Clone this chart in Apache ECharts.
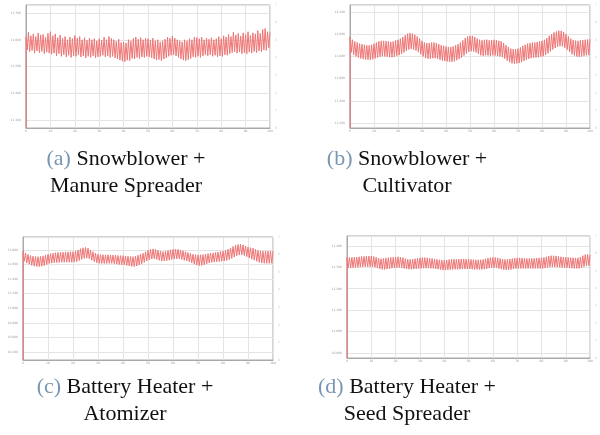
<!doctype html>
<html>
  <head>
    <meta charset="utf-8">
    <title>Figure</title>
    <script src="https://cdn.jsdelivr.net/npm/echarts@6/dist/echarts.min.js"></script>
    <style>
      html, body { margin: 0; padding: 0; background: #fff; }
      #main { width: 600px; height: 435px; }
    </style>
  </head>
  <body>
    <div id="main"></div>
    <script type="text/javascript">
      // captions
      var captionTags = ['(a)', '(b)', '(c)', '(d)'];
      var captionLines = [
        ['Snowblower +', 'Manure Spreader'],
        ['Snowblower +', 'Cultivator'],
        ['Battery Heater +', 'Atomizer'],
        ['Battery Heater +', 'Seed Spreader']
      ];

      // y axis extents of each panel and the value where the trace starts
      var yMins = [11270, 11155, 10290, 10877];
      var yMaxs = [11730, 12263, 11978, 11446];
      var startVals = [11270, 11155, 10290, 10877];

      // peaks (hi) and troughs (lo) of each cycle, one per x unit
      var hiA = [11610, 11628, 11615, 11622, 11612, 11625, 11618, 11620, 11610, 11624,
                 11630, 11615, 11622, 11608, 11618, 11605, 11612, 11600, 11610, 11604,
                 11616, 11606, 11612, 11600, 11608, 11598, 11606, 11600, 11604, 11596,
                 11604, 11598, 11610, 11600, 11612, 11605, 11600, 11594, 11602, 11590,
                 11592, 11588, 11600, 11596, 11605, 11610, 11602, 11608, 11600, 11606,
                 11604, 11598, 11606, 11596, 11600, 11592, 11596, 11602, 11610, 11606,
                 11614, 11606, 11600, 11596, 11592, 11600, 11596, 11604, 11600, 11610,
                 11608, 11604, 11610, 11600, 11606, 11602, 11608, 11600, 11604, 11612,
                 11604, 11615, 11610, 11620, 11612, 11628, 11618, 11624, 11614, 11626,
                 11620, 11630, 11616, 11626, 11622, 11634, 11624, 11638, 11642, 11630, 11628];
      var loA = [11562, 11555, 11560, 11550, 11558, 11552, 11556, 11548, 11554, 11550,
                 11546, 11550, 11540, 11548, 11538, 11544, 11536, 11542, 11534, 11540,
                 11538, 11544, 11536, 11540, 11532, 11538, 11534, 11540, 11532, 11536,
                 11538, 11542, 11536, 11540, 11534, 11538, 11532, 11528, 11524, 11520,
                 11518, 11524, 11522, 11530, 11528, 11534, 11530, 11536, 11534, 11538,
                 11536, 11532, 11528, 11524, 11526, 11522, 11528, 11532, 11538, 11542,
                 11544, 11540, 11534, 11528, 11524, 11522, 11526, 11530, 11536, 11534,
                 11538, 11534, 11540, 11544, 11540, 11544, 11538, 11542, 11536, 11540,
                 11538, 11544, 11542, 11548, 11552, 11556, 11550, 11554, 11548, 11552,
                 11548, 11554, 11550, 11556, 11552, 11558, 11556, 11562, 11560, 11570];

      var hiB = [11975, 11950, 11935, 11925, 11915, 11910, 11905, 11900, 11900, 11905,
                 11915, 11925, 11935, 11940, 11940, 11938, 11935, 11930, 11935, 11945,
                 11950, 11960, 11975, 11990, 12005, 12010, 12005, 11995, 11980, 11960,
                 11940, 11925, 11920, 11920, 11925, 11925, 11920, 11910, 11900, 11895,
                 11890, 11885, 11885, 11890, 11900, 11910, 11925, 11945, 11965, 11980,
                 11985, 11985, 11975, 11960, 11950, 11945, 11950, 11950, 11945, 11948,
                 11950, 11945, 11940, 11935, 11920, 11900, 11885, 11870, 11865, 11865,
                 11870, 11880, 11895, 11905, 11915, 11920, 11925, 11925, 11930, 11935,
                 11940, 11950, 11965, 11985, 12000, 12015, 12025, 12032, 12030, 12020,
                 12000, 11980, 11960, 11948, 11942, 11940, 11945, 11948, 11950, 11952, 11955];
      var loB = [11835, 11815, 11800, 11790, 11782, 11776, 11772, 11770, 11770, 11774,
                 11782, 11790, 11798, 11802, 11800, 11798, 11795, 11792, 11798, 11806,
                 11812, 11822, 11836, 11850, 11862, 11868, 11862, 11852, 11838, 11818,
                 11800, 11786, 11780, 11778, 11784, 11784, 11778, 11770, 11762, 11758,
                 11755, 11750, 11752, 11756, 11766, 11776, 11790, 11808, 11826, 11840,
                 11846, 11844, 11836, 11822, 11810, 11806, 11810, 11808, 11805, 11808,
                 11808, 11804, 11800, 11794, 11780, 11762, 11748, 11738, 11735, 11736,
                 11740, 11748, 11760, 11770, 11778, 11785, 11788, 11790, 11792, 11798,
                 11802, 11812, 11828, 11846, 11862, 11876, 11886, 11892, 11890, 11878,
                 11860, 11840, 11820, 11808, 11800, 11796, 11800, 11806, 11810, 11812];

      var hiC = [11786, 11760, 11740, 11725, 11715, 11709, 11708, 11712, 11720, 11730,
                 11741, 11750, 11758, 11763, 11766, 11768, 11770, 11772, 11774, 11776,
                 11777, 11785, 11800, 11818, 11830, 11834, 11825, 11800, 11775, 11755,
                 11741, 11736, 11734, 11733, 11734, 11732, 11730, 11727, 11724, 11722,
                 11722, 11718, 11714, 11710, 11709, 11715, 11728, 11742, 11756, 11775,
                 11795, 11808, 11814, 11808, 11795, 11783, 11777, 11782, 11792, 11802,
                 11808, 11810, 11809, 11800, 11788, 11776, 11766, 11754, 11742, 11734,
                 11732, 11734, 11738, 11744, 11750, 11755, 11760, 11766, 11772, 11778,
                 11786, 11796, 11810, 11828, 11848, 11866, 11876, 11878, 11870, 11855,
                 11840, 11832, 11825, 11808, 11795, 11786, 11784, 11784, 11785, 11786, 11786];
      var loC = [11645, 11622, 11604, 11588, 11578, 11572, 11572, 11576, 11585, 11600,
                 11614, 11620, 11624, 11628, 11630, 11631, 11632, 11632, 11631, 11631,
                 11633, 11640, 11656, 11672, 11684, 11688, 11680, 11660, 11640, 11625,
                 11617, 11615, 11614, 11615, 11616, 11617, 11612, 11606, 11600, 11596,
                 11595, 11588, 11580, 11575, 11572, 11580, 11595, 11612, 11630, 11648,
                 11664, 11675, 11678, 11670, 11658, 11650, 11649, 11652, 11660, 11670,
                 11676, 11678, 11677, 11670, 11658, 11648, 11638, 11622, 11605, 11592,
                 11585, 11588, 11598, 11610, 11622, 11630, 11634, 11638, 11642, 11646,
                 11649, 11656, 11668, 11685, 11703, 11720, 11730, 11732, 11724, 11708,
                 11690, 11672, 11660, 11645, 11630, 11620, 11617, 11617, 11616, 11617];

      var hiD = [11346, 11345, 11346, 11347, 11348, 11349, 11350, 11351, 11352, 11352,
                 11352, 11350, 11347, 11343, 11340, 11341, 11343, 11345, 11346, 11347,
                 11348, 11349, 11348, 11345, 11340, 11337, 11337, 11338, 11340, 11342,
                 11344, 11345, 11345, 11344, 11342, 11341, 11339, 11337, 11335, 11333,
                 11333, 11334, 11336, 11337, 11338, 11337, 11338, 11339, 11339, 11338,
                 11338, 11337, 11336, 11335, 11335, 11335, 11337, 11340, 11343, 11345,
                 11346, 11346, 11344, 11341, 11338, 11337, 11337, 11339, 11341, 11343,
                 11344, 11344, 11343, 11342, 11341, 11341, 11341, 11342, 11343, 11344,
                 11344, 11346, 11349, 11352, 11354, 11354, 11353, 11351, 11349, 11348,
                 11347, 11346, 11345, 11344, 11344, 11344, 11348, 11354, 11359, 11360, 11358];
      var loD = [11298, 11297, 11298, 11299, 11300, 11301, 11302, 11303, 11303, 11302,
                 11302, 11300, 11297, 11293, 11290, 11290, 11292, 11294, 11296, 11297,
                 11298, 11299, 11298, 11295, 11292, 11291, 11291, 11292, 11293, 11294,
                 11295, 11296, 11296, 11296, 11295, 11295, 11293, 11291, 11289, 11287,
                 11287, 11288, 11289, 11290, 11291, 11290, 11291, 11292, 11292, 11292,
                 11292, 11291, 11290, 11290, 11290, 11290, 11291, 11293, 11296, 11298,
                 11298, 11297, 11294, 11291, 11289, 11288, 11288, 11290, 11292, 11294,
                 11295, 11295, 11295, 11295, 11295, 11295, 11295, 11295, 11295, 11295,
                 11295, 11297, 11299, 11301, 11302, 11302, 11301, 11300, 11299, 11298,
                 11298, 11297, 11296, 11295, 11295, 11295, 11298, 11303, 11307, 11307];

      var his = [hiA, hiB, hiC, hiD];
      var los = [loA, loB, loC, loD];

      // panel boxes
      var boxes = [
        { left: 26, top: 5, width: 244, height: 123 },
        { left: 350, top: 5, width: 240, height: 123 },
        { left: 23, top: 237, width: 250, height: 123 },
        { left: 347, top: 236, width: 246, height: 122 }
      ];
      var splitNums = [5, 5, 8, 5];
      var captionPos = [[126, 173], [407, 173], [125, 401], [407, 401]];

      var gridLine = { lineStyle: { color: '#e4e4e4', width: 1 } };
      var tinyLabel = { fontSize: 3, color: '#9a9a9a', fontFamily: 'DejaVu Sans' };

      var grids = [], xAxes = [], yAxes = [], series = [], graphics = [];
      for (var p = 0; p < 4; p++) {
        grids.push(Object.assign({ show: true, borderColor: '#a9a9a9', borderWidth: 1 }, boxes[p]));
        xAxes.push({
          type: 'value', gridIndex: p, min: 0, max: 100, interval: 10,
          axisLine: { lineStyle: { color: '#a9a9a9' } },
          axisTick: { show: false },
          axisLabel: Object.assign({ margin: 2 }, tinyLabel),
          splitLine: gridLine
        });
        yAxes.push({
          type: 'value', gridIndex: p, min: yMins[p], max: yMaxs[p], splitNumber: splitNums[p],
          axisLine: { show: true, lineStyle: { color: '#a9a9a9' } },
          axisTick: { show: false },
          axisLabel: Object.assign({ margin: 5, showMinLabel: false, showMaxLabel: false }, tinyLabel),
          splitLine: gridLine
        });
        // right hand axis with faint labels
        yAxes.push({
          type: 'value', gridIndex: p, position: 'right', min: 0, max: 7, interval: 1,
          axisLine: { show: false }, axisTick: { show: false }, splitLine: { show: false },
          axisLabel: { margin: 5, fontSize: 3, color: '#c4c4c4', fontFamily: 'DejaVu Sans' }
        });

        var data = [[0, startVals[p]]];
        var hi = his[p], lo = los[p];
        for (var i = 0; i < hi.length; i++) {
          data.push([i, hi[i]]);
          if (i < lo.length) data.push([i + 0.5, lo[i]]);
        }
        series.push({
          type: 'line', xAxisIndex: p, yAxisIndex: p * 2, data: data,
          showSymbol: false, symbol: 'none', silent: true,
          lineStyle: { color: '#ee7676', width: 1 }
        });

        graphics.push({
          type: 'text', x: captionPos[p][0], y: captionPos[p][1],
          style: {
            text: '{t|' + captionTags[p] + '} ' + captionLines[p][0] + '\n' + captionLines[p][1],
            align: 'center', verticalAlign: 'middle',
            fontFamily: 'Liberation Serif', fontSize: 22, lineHeight: 27, fill: '#111',
            rich: {
              t: { fontFamily: 'Liberation Serif', fontSize: 22, lineHeight: 27, fill: '#7896b4', color: '#7896b4' }
            }
          }
        });
      }

      var myChart = echarts.init(document.getElementById('main'));
      var option = {
        animation: false,
        backgroundColor: '#fff',
        grid: grids,
        xAxis: xAxes,
        yAxis: yAxes,
        series: series,
        graphic: graphics
      };
      myChart.setOption(option);
    </script>
  </body>
</html>
